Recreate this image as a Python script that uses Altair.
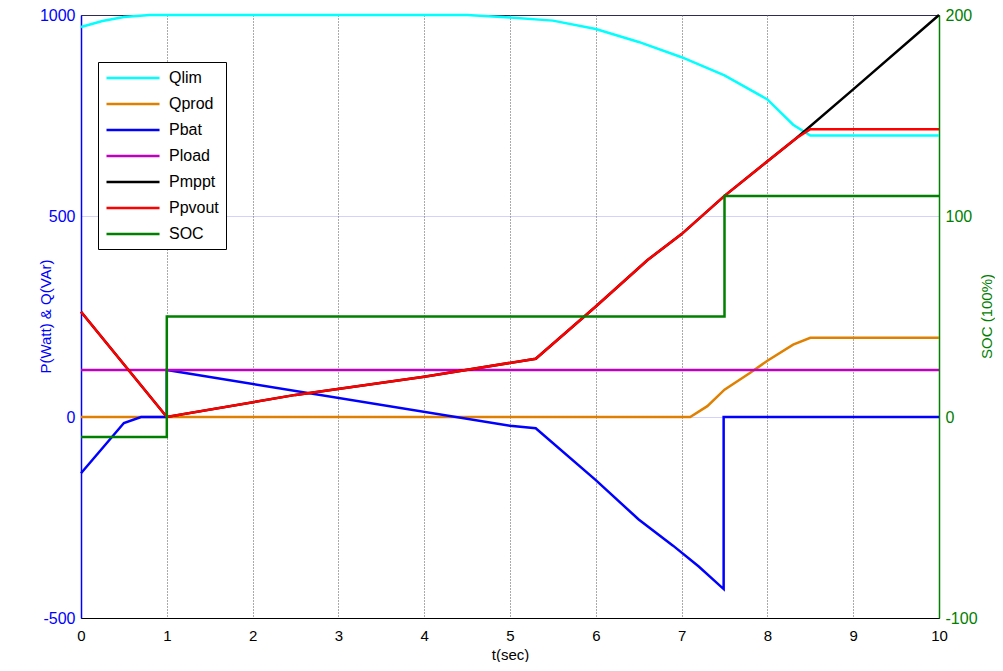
import altair as alt
import pandas as pd

# ---- data ----
series_names = ["Qlim", "Qprod", "Pbat", "Pload", "Pmppt", "Ppvout", "SOC"]
series_colors = ["#00ffff", "#e08000", "#0000ff", "#bf00bf", "#000000", "#ff0000", "#008000"]

t_qlim = [0, 0.25, 0.5, 0.8, 4.5, 5.0, 5.5, 6.0, 6.5, 7.0, 7.5, 8.0, 8.3, 8.5, 10]
qlim = [970, 985, 995, 1000, 1000, 994, 986, 965, 933, 895, 850, 790, 727, 700, 700]

t_qprod = [0, 7.1, 7.3, 7.5, 7.8, 8.0, 8.3, 8.5, 10]
qprod = [0, 0, 27, 68, 110, 140, 180, 197, 197]

t_pbat = [0, 0.5, 0.7, 1, 1, 5.0, 5.3, 6.0, 6.5, 6.9, 7.2, 7.49, 7.49, 10]
pbat = [-140, -15, 0, 0, 117, -22, -28, -157, -255, -320, -372, -428, 0, 0]

t_pload = [0, 10]
pload = [117, 117]

t_pmppt = [0, 1, 2.5, 4.0, 5.3, 6.0, 6.6, 7.0, 7.5, 7.9, 8.34, 9.0, 10]
pmppt = [262, 0, 55, 100, 145, 275, 390, 455, 550, 619, 694, 815, 1000]

t_ppvout = [0, 1, 2.5, 4.0, 5.3, 6.0, 6.6, 7.0, 7.5, 7.9, 8.34, 8.5, 10]
ppvout = [262, 0, 55, 100, 145, 275, 390, 455, 550, 619, 694, 716, 716]

t_soc = [0, 1, 1, 7.5, 7.5, 10]
soc = [-10, -10, 50, 50, 110, 110]

x_ticks = list(range(0, 11))
left_ticks = [-500, 0, 500, 1000]
right_ticks = [-100, 0, 100, 200]


def frame(name, ts, vs):
    return pd.DataFrame({"series": name, "t": ts, "v": vs, "i": list(range(len(ts)))})


left_sets = [
    ("Qlim", t_qlim, qlim),
    ("Qprod", t_qprod, qprod),
    ("Pbat", t_pbat, pbat),
    ("Pload", t_pload, pload),
    ("Pmppt", t_pmppt, pmppt),
    ("Ppvout", t_ppvout, ppvout),
]

FONT = "Liberation Sans"
PLAIN_LABEL = "'' + datum.value"

color_enc = alt.Color(
    "series:N",
    scale=alt.Scale(domain=series_names, range=series_colors),
    sort=series_names,
    legend=alt.Legend(
        title=None,
        orient="none",
        legendX=17,
        legendY=47,
        direction="vertical",
        symbolType="M-1,0H6.07",
        symbolSize=225,
        symbolStrokeWidth=2.5,
        labelFont=FONT,
        labelFontSize=16,
        labelColor="black",
        labelOffset=46,
        rowPadding=9,
        padding=7,
        strokeColor="black",
        fillColor="white",
    ),
)

x_enc = alt.X(
    "t:Q",
    scale=alt.Scale(domain=[0, 10], nice=False, zero=False),
    axis=alt.Axis(
        values=x_ticks,
        labelExpr=PLAIN_LABEL,
        labelFlush=False,
        title="t(sec)",
        grid=True,
        gridColor="#555555",
        gridDash=[1, 2],
        gridWidth=1,
        domainColor="black",
        ticks=False,
        labelPadding=10,
        labelFont=FONT,
        labelFontSize=15,
        labelColor="black",
        titleFont=FONT,
        titleFontSize=15,
        titleFontWeight="normal",
        titleColor="black",
        titlePadding=4,
    ),
)

y_left = alt.Y(
    "v:Q",
    scale=alt.Scale(domain=[-500, 1000], nice=False),
    axis=alt.Axis(
        orient="left",
        values=left_ticks,
        labelExpr=PLAIN_LABEL,
        labelFlush=False,
        title="P(Watt) & Q(VAr)",
        grid=True,
        gridColor="#7f7fff",
        gridDash=[1, 1],
        gridOpacity=0.7,
        domainColor="#0000ff",
        domainWidth=1.5,
        ticks=False,
        labelPadding=6,
        labelFont=FONT,
        labelFontSize=16,
        labelColor="#0000ff",
        titleFont=FONT,
        titleFontSize=15,
        titleFontWeight="normal",
        titleColor="#0000ff",
        titleAngle=270,
        titleBaseline="bottom",
        titleX=-28,
        titleY=301,
    ),
)

layers = []
for name, ts, vs in left_sets:
    layers.append(
        alt.Chart(frame(name, ts, vs))
        .mark_line(strokeWidth=2.5)
        .encode(x=x_enc, y=y_left, color=color_enc, order="i:Q")
    )

left = alt.layer(*layers)

right = (
    alt.Chart(frame("SOC", t_soc, soc))
    .mark_line(strokeWidth=2.5)
    .encode(
        x=x_enc,
        y=alt.Y(
            "v:Q",
            scale=alt.Scale(domain=[-100, 200], nice=False),
            axis=alt.Axis(
                orient="right",
                values=right_ticks,
                labelExpr=PLAIN_LABEL,
                labelFlush=False,
                title="SOC (100%)",
                grid=False,
                domainColor="#008000",
                domainWidth=1.5,
                ticks=False,
                labelPadding=6,
                labelFont=FONT,
                labelFontSize=16,
                labelColor="#008000",
                titleFont=FONT,
                titleFontSize=15,
                titleFontWeight="normal",
                titleColor="#008000",
                titleAngle=270,
                titleBaseline="bottom",
                titleX=55,
                titleY=301,
            ),
        ),
        color=color_enc,
        order="i:Q",
    )
)

chart = (
    alt.layer(left, right)
    .resolve_scale(y="independent")
    .properties(
        width=858,
        height=603,
        autosize=alt.AutoSizeParams(type="none"),
        padding={"left": 73, "top": 7, "right": 56, "bottom": 44},
        background="white",
    )
    .configure_view(stroke="black", strokeWidth=1)
)

chart.save("out.html", embed_options={"renderer": "svg", "actions": False})
